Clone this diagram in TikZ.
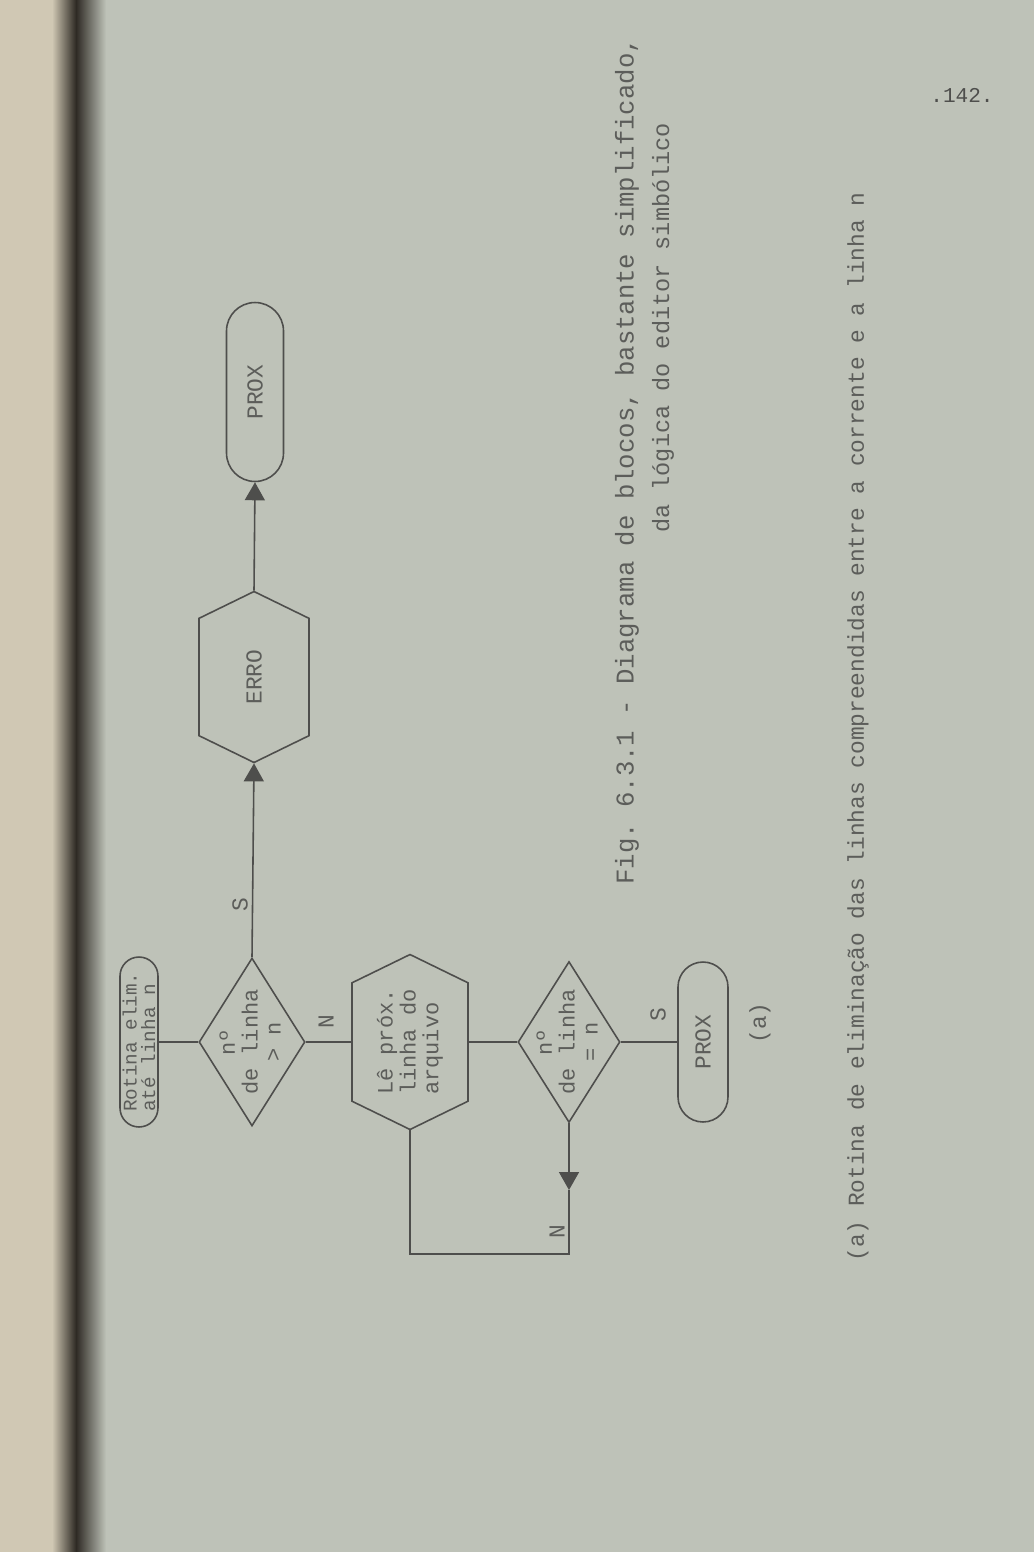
\documentclass[tikz,border=0pt]{standalone}
\usepackage{fontspec}
\setmainfont{Liberation Serif}
\setmonofont{Liberation Mono}
\usetikzlibrary{shapes.geometric,shapes.misc,shapes.symbols,arrows.meta}
\definecolor{pagebg}{RGB}{190,194,184}
\definecolor{inkgray}{RGB}{78,78,76}
\definecolor{textgray}{RGB}{92,93,90}
\definecolor{binding}{RGB}{46,42,36}
\definecolor{edgebeige}{RGB}{208,200,180}
\tikzset{
  terminal/.style={rounded rectangle, draw=inkgray, line width=0.9pt, rotate=90, inner sep=0pt, text=textgray, font=\ttfamily\fontsize{13}{13}\selectfont},
  decision/.style={diamond, draw=inkgray, line width=0.9pt, rotate=90, inner sep=0pt},
  process/.style={signal, signal to=east and west, signal pointer angle=128, draw=inkgray, line width=0.9pt, rotate=90, inner sep=0pt, align=left, text=textgray, font=\ttfamily\fontsize{12.5}{13}\selectfont},
  boxtext/.style={rotate=90, inner sep=0pt, align=center, text=textgray, font=\ttfamily\fontsize{12.5}{13}\selectfont},
  edgelabel/.style={rotate=90, inner sep=0pt, text=textgray, font=\ttfamily\fontsize{13}{13}\selectfont},
  caption/.style={rotate=90, anchor=west, inner sep=0pt, text=textgray, font=\ttfamily\fontsize{14}{14}\selectfont},
  flowedge/.style={draw=inkgray, line width=0.9pt},
  flowarrow/.style={flowedge, -{Triangle[length=3.6mm,width=4mm]}}
}
\begin{document}
\begin{tikzpicture}[x=0.02cm, y=-0.02cm]
  \useasboundingbox (0,0) rectangle (1034,1552);
  % page and binding
  \fill[pagebg] (0,0) rectangle (1034,1552);
  \fill[edgebeige] (0,0) rectangle (52,1552);
  \shade[left color=edgebeige, right color=binding] (52,0) rectangle (76,1552);
  \shade[left color=binding, right color=pagebg] (76,0) rectangle (106,1552);

  % blocks
  \node[terminal, minimum width=3.4cm, minimum height=0.76cm, font=\ttfamily\fontsize{11}{10.5}\selectfont, align=left] (start) at (139,1042) {Rotina elim.\\até linha n};
  \node[decision, minimum width=3.36cm, minimum height=2.12cm] (d1) at (252,1042) {};
  \node[boxtext] (d1t) at (250,1042) {nº\\de linha\\> n};
  \node[process, minimum width=3.42cm, minimum height=2.2cm, font=\ttfamily\fontsize{13}{13}\selectfont] (erro) at (254,677) {ERRO};
  \node[terminal, minimum width=3.58cm, minimum height=1.14cm] (prox1) at (255,392) {PROX};
  \node[process, minimum width=3.5cm, minimum height=2.32cm] (h2) at (410,1042) {Lê próx.\\linha do\\arquivo};
  \node[decision, minimum width=3.22cm, minimum height=2.04cm] (d2) at (569,1042) {};
  \node[boxtext] (d2t) at (567,1042) {nº\\de linha\\= n};
  \node[terminal, minimum width=3.2cm, minimum height=1.0cm] (prox2) at (703,1042) {PROX};
  \coordinate (lp) at (569,1190);
  \coordinate (lc) at (569,1254);

  % connectors
  \draw[flowedge] (start) -- (d1);
  \draw[flowarrow] (d1.east) -- (erro.west);
  \draw[flowarrow] (erro.east) -- (prox1.west);
  \draw[flowedge] (d1) -- (h2);
  \draw[flowedge] (h2) -- (d2);
  \draw[flowedge] (d2) -- (prox2);
  \draw[flowarrow] (d2.west) -- (lp);
  \draw[flowedge] (lp) -- (lc) -| (h2.west);

  % labels
  \node[edgelabel] (s1) at (240,905) {S};
  \node[edgelabel] (n1) at (326,1022) {N};
  \node[edgelabel] (s2) at (658,1015) {S};
  \node[edgelabel] (n2) at (557,1232) {N};
  \node[edgelabel] (suba) at (760,1023) {(a)};

  % captions
  \node[caption, font=\ttfamily\fontsize{14.6}{14}\selectfont] (cap1) at (627,885) {Fig. 6.3.1 - Diagrama de blocos, bastante simplificado,};
  \node[caption, font=\ttfamily\fontsize{13.4}{14}\selectfont] (cap2) at (663,533) {da lógica do editor simbólico};
  \node[caption, font=\ttfamily\fontsize{13}{13}\selectfont] (cap3) at (858,1262) {(a) Rotina de eliminação das linhas compreendidas entre a corrente e a linha n};
  \node[inner sep=0pt, text=inkgray, font=\ttfamily\fontsize{12}{12}\selectfont] (pgnum) at (962,95) {.142.};
\end{tikzpicture}
\end{document}
